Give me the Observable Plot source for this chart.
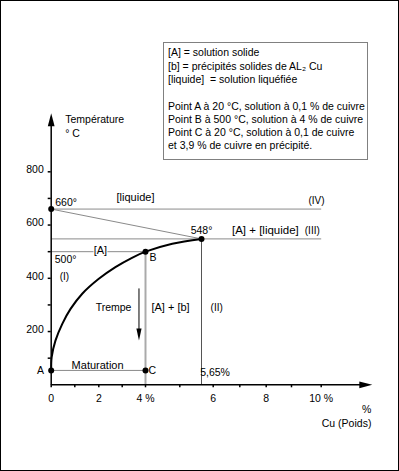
<!DOCTYPE html>
<html>
<head>
<meta charset="utf-8">
<script src="https://cdn.jsdelivr.net/npm/d3@7"></script>
<script src="https://cdn.jsdelivr.net/npm/@observablehq/plot@0.6"></script>
<style>
  body { margin: 0; background: #fff; }
  #wrap { position: relative; width: 399px; height: 471px; overflow: hidden; }
  #wrap svg { position: absolute; left: 0; top: 0; outline: 1px solid #000; outline-offset: -1px; }
  #legend {
    position: absolute; left: 163px; top: 42px; width: 205px; height: 118px;
    box-sizing: border-box; border: 1px solid #808080; background: #fff;
    font-family: "Liberation Sans", Arial, sans-serif; font-size: 10.5px; line-height: 13.3px;
    padding: 3.4px 0 0 4px; color: #000; white-space: pre;
  }
</style>
</head>
<body>
<div id="wrap">
  <div id="legend"></div>
</div>
<script>
// ---- data ----
const xTicks = [0, 1, 2, 3, 4, 5, 6, 7, 8, 9, 10];
const xTickLabels = ["0", "", "2", "", "4 %", "", "6", "", "8", "", "10 %"];
const yTicks = [100, 200, 300, 400, 500, 600, 700, 800];
const yLabelTicks = [200, 400, 600, 800];

// solvus curve
const curveX = [0, 0.02, 0.18, 0.47, 0.82, 1.31, 2.0, 2.71, 3.42, 4, 4.78, 5.65];
const curveY = [54, 104, 166, 229, 285, 342, 398, 442, 477, 500, 530, 548];

// key points: A, B, C, eutectic 548°, 660° (melting Al)
const pointX = [0, 4, 4, 5.65, 0];
const pointY = [54, 500, 54, 548, 660];

// thin gray segments
const grayX1 = [0, 0, 0, 0, 0];
const grayY1 = [660, 660, 548, 500, 54];
const grayX2 = [5.65, 10, 10, 4, 4];
const grayY2 = [548, 660, 548, 500, 54];

// vertical at 4 %
const vB = {x: 4, y1: 500, y2: 0};
// vertical at 5.65 %
const vE = {x: 5.65, y1: 548, y2: 0};

// quench arrow ("Trempe")
const trempeX = 3.72, trempeTop = 362, trempeBottom = 166;

// axes extents
const xAxisEnd = 11.72, yAxisEnd = 1020;

// annotations
const labelText = ["[liquide]", "(IV)", "548°", "[A] + [liquide]", "(III)", "660°", "500°", "(I)", "B",
                   "Trempe", "[A] + [b]", "(II)", "Maturation", "A", "C", "5,65%"];
const labelX = [3.57, 9.84, 5.65, 7.97, 9.7, 0.63, 0.61, 0.56, 4.22, 2.63, 4.73, 6.13, 1.95, -0.45, 4.2, 6.07];
const labelY = [703, 692, 579, 579, 579, 685, 471, 407, 477, 290, 290, 290, 73, 54, 54, 47];
const labelSize = [11, 10, 10.5, 11.5, 10, 10.5, 10.5, 10, 10.5, 10.5, 11, 10, 11, 10.5, 10.5, 10.5];

const bracketA = {text: "[A]", x: 2.07, y: 505};

const yTitle = "Température\n° C";
const xTitle = "%\nCu (Poids)";

const legendLines = [
  "[A] = solution solide",
  "[b] = précipités solides de AL\u2082 Cu",
  "[liquide]  = solution liquéfiée",
  "",
  "Point A à 20 °C, solution à 0,1 % de cuivre",
  "Point B à 500 °C, solution à 4 % de cuivre",
  "Point C à 20 °C, solution à 0,1 de cuivre",
  "et 3,9 % de cuivre en précipité."
];

// ---- build ----
const curve = curveX.map((x, i) => ({x, y: curveY[i]}));
const points = pointX.map((x, i) => ({x, y: pointY[i]}));
const grays = grayX1.map((x1, i) => ({x1, y1: grayY1[i], x2: grayX2[i], y2: grayY2[i]}));
const labels = labelText.map((t, i) => ({t, x: labelX[i], y: labelY[i], s: labelSize[i]}));

const headShape = {
  draw(ctx, l, r) { ctx.moveTo(0, -l); ctx.lineTo(-r, 0); ctx.lineTo(r, 0); ctx.closePath(); }
};

const FONT = "Liberation Sans, Arial, sans-serif";

const chart = Plot.plot({
  width: 399,
  height: 471,
  marginLeft: 50.7,
  marginRight: 28,
  marginTop: 40,
  marginBottom: 86.7,
  style: {fontFamily: FONT, fontSize: "10px", color: "#000", background: "transparent"},
  x: {domain: xTicks, range: [50.7, 74.3, 98.3, 121.7, 145, 179.3, 212.7, 239.3, 265.7, 291, 320.7], type: "linear"},
  y: {domain: [0, 800], range: [384.3, 171.3]},
  marks: [
    // gray construction lines
    Plot.link(grays, {x1: "x1", y1: "y1", x2: "x2", y2: "y2", stroke: "#8a8a8a", strokeWidth: 1}),
    Plot.link([vB], {x1: "x", x2: "x", y1: "y1", y2: "y2", stroke: "#aaaaaa", strokeWidth: 2}),
    Plot.link([vE], {x1: "x", x2: "x", y1: "y1", y2: "y2", stroke: "#555", strokeWidth: 1}),
    // curve
    Plot.line(curve, {x: "x", y: "y", curve: "catmull-rom", stroke: "#000", strokeWidth: 2}),
    // axes lines
    Plot.link([{x1: 0, y1: 0, x2: xAxisEnd - 0.35, y2: 0}, {x1: 0, y1: 0, x2: 0, y2: yAxisEnd - 30}],
      {x1: "x1", y1: "y1", x2: "x2", y2: "y2", stroke: "#000", strokeWidth: 1.5}),
    Plot.vector([{x: xAxisEnd, y: 0, r: 90}, {x: 0, y: yAxisEnd, r: 0}],
      {x: "x", y: "y", rotate: "r", length: 13, r: 3.4, anchor: "end", shape: headShape, fill: "#000", stroke: "none"}),
    // ticks
    Plot.axisX({ticks: xTicks, tickSize: 3, tickPadding: 7, tickFormat: d => xTickLabels[xTicks.indexOf(d)],
      label: null, fontSize: 10.5, strokeWidth: 1.5}),
    Plot.axisY({ticks: yTicks, tickSize: 3, tickFormat: () => "", label: null, strokeWidth: 1.5}),
    Plot.axisY({ticks: yLabelTicks, tickSize: 0, tickPadding: 7.4, dy: -2, label: null, fontSize: 10.5}),
    // quench arrow
    Plot.link([{x: trempeX, y1: trempeTop, y2: trempeBottom + 30}], {x1: "x", x2: "x", y1: "y1", y2: "y2", stroke: "#000", strokeWidth: 1}),
    Plot.vector([{x: trempeX, y: trempeBottom}], {x: "x", y: "y", rotate: 180, length: 12, r: 2.6, anchor: "end", shape: headShape, fill: "#000", stroke: "none"}),
    // points
    Plot.dot(points, {x: "x", y: "y", r: 3, fill: "#000"}),
    // labels
    Plot.text(labels, {x: "x", y: "y", text: "t", fontSize: "s", fill: "#000", textAnchor: "middle"}),
    Plot.text([bracketA], {x: "x", y: "y", text: "text", fontSize: 11, fill: "#000", stroke: "#fff", strokeWidth: 2, paintOrder: "stroke"}),
    // axis titles
    Plot.text([yTitle], {x: 0, y: 974, text: d => d, dx: 14, textAnchor: "start", fontSize: 10.5, lineHeight: 1.33, fill: "#000"}),
    Plot.text([xTitle], {x: 11.69, y: -115, text: d => d, textAnchor: "end", fontSize: 10.5, lineHeight: 1.33, fill: "#000"})
  ]
});

const wrap = document.getElementById("wrap");
wrap.insertBefore(chart, wrap.firstChild);
document.getElementById("legend").innerHTML = legendLines.join("\n");
</script>
</body>
</html>
